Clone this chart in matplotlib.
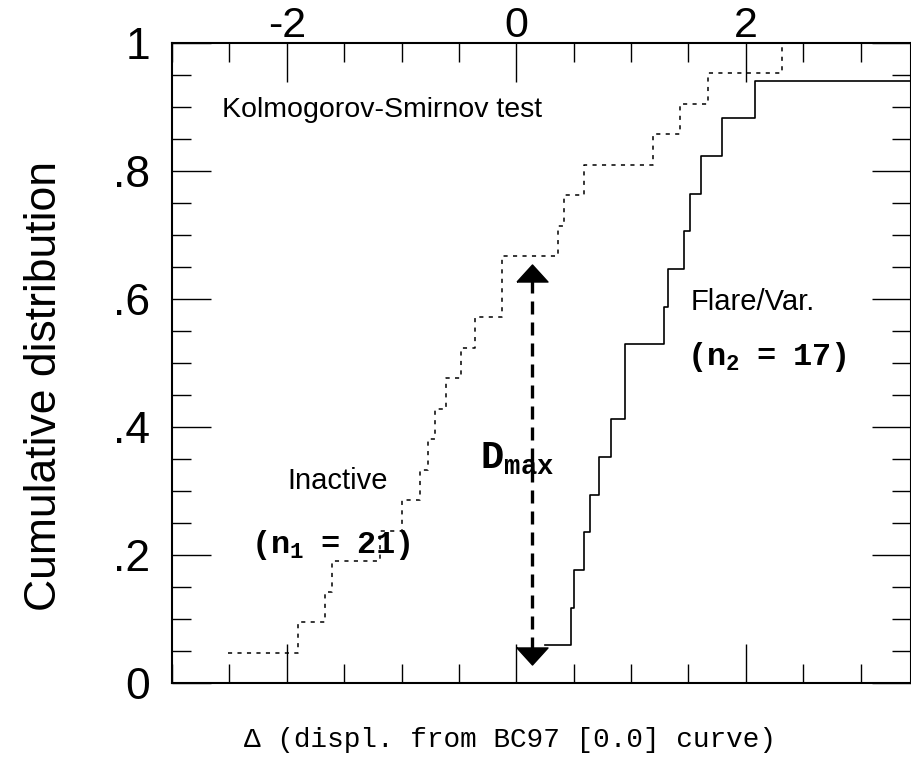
import numpy as np
import matplotlib
matplotlib.use("Agg")
import matplotlib.pyplot as plt
from matplotlib.ticker import MultipleLocator, FuncFormatter

plt.rcParams["font.family"] = ["Liberation Sans", "DejaVu Sans"]
plt.rcParams["axes.unicode_minus"] = False
plt.rcParams["mathtext.fontset"] = "custom"
plt.rcParams["mathtext.rm"] = "Liberation Mono:bold"
plt.rcParams["mathtext.bf"] = "Liberation Mono:bold"

# sorted displacements
inactive = [-2.51, -1.90, -1.67, -1.61, -1.19, -1.00, -0.84, -0.77, -0.71,
            -0.61, -0.48, -0.36, -0.12, -0.12, 0.36, 0.42, 0.59, 1.19,
            1.43, 1.67, 2.32]
flare = [0.25, 0.48, 0.50, 0.59, 0.64, 0.72, 0.83, 0.95, 0.95, 1.29,
         1.32, 1.46, 1.51, 1.61, 1.79, 2.08, 3.60]  # last one is off the plot

xmin, xmax = -3.0, 3.44

# D_max marker
dmax_x = 0.138
dmax_lo = 0.0414
dmax_hi = 0.641

fig = plt.figure(figsize=(9.12, 7.62), dpi=100)
ax = fig.add_axes([0.1886, 0.1037, 0.8103, 0.8399])

n1 = len(inactive)
n2 = len(flare)
y1 = np.arange(1, n1 + 1) / n1
y2 = np.arange(1, n2 + 1) / n2

ax.step(inactive + [xmax], list(y1) + [1.0], where="post", color="k",
        lw=1.1, ls=(0, (2.7, 3.5)))
ax.step(flare, y2, where="post", color="k", lw=1.2)

# double arrow for D_max
ax.plot([dmax_x, dmax_x], [dmax_lo + 0.01, dmax_hi - 0.01], color="k",
        lw=2.4, ls=(0, (3.9, 2.4)))
up = [(-1, -0.55), (1, -0.55), (0, 0.55), (-1, -0.55)]
down = [(-1, 0.55), (1, 0.55), (0, -0.55), (-1, 0.55)]
ax.plot([dmax_x], [dmax_hi], marker=up, ms=22.3, color="k", ls="none")
ax.plot([dmax_x], [dmax_lo], marker=down, ms=22.3, color="k", ls="none")

ax.set_xlim(xmin, xmax)
ax.set_ylim(0, 1)

ax.xaxis.set_major_locator(MultipleLocator(2))
ax.xaxis.set_minor_locator(MultipleLocator(0.5))
ax.yaxis.set_major_locator(MultipleLocator(0.2))
ax.yaxis.set_minor_locator(MultipleLocator(0.05))


def yfmt(v, pos):
    if abs(v) < 1e-9:
        return "0"
    if abs(v - 1) < 1e-9:
        return "1"
    return ("%.1f" % v).lstrip("0")


ax.yaxis.set_major_formatter(FuncFormatter(yfmt))
ax.xaxis.set_major_formatter(FuncFormatter(lambda v, p: "%d" % round(v)))

ax.tick_params(which="both", direction="in", top=True, right=True,
               labeltop=True, labelbottom=False, width=1.0, color="k")
ax.tick_params(which="major", length=28)
ax.tick_params(which="minor", length=14)
ax.tick_params(axis="y", labelsize=32, pad=16)
ax.tick_params(axis="x", labelsize=31, pad=-2.5)
for s in ax.spines.values():
    s.set_linewidth(1.5)

ax.set_ylabel("Cumulative distribution", fontsize=32, va="center")
ax.yaxis.set_label_coords(-0.172, 0.464)
ax.set_xlabel("\u0394 (displ. from BC97 [0.0] curve)", fontsize=20,
              family=["Liberation Mono", "DejaVu Sans Mono"], va="center")
ax.xaxis.set_label_coords(0.457, -0.089)

ax.text(-2.564, 0.8945, "Kolmogorov-Smirnov test", fontsize=20.5,
        ha="left", va="center")
ax.text(-1.557, 0.316, "Inactive", fontsize=21, ha="center", va="center")
ax.text(2.064, 0.595, "Flare/Var.", fontsize=21, ha="center", va="center")
ax.text(-1.618, 0.216, r"$\mathbf{(n_1\ =\ 21)}$", fontsize=23,
        ha="center", va="center")
ax.text(2.181, 0.509, r"$\mathbf{(n_2\ =\ 17)}$", fontsize=23,
        ha="center", va="center")
ax.text(0.007, 0.35, r"$\mathbf{D_{max}}$", fontsize=28,
        ha="center", va="center")

fig.savefig("out.png", dpi=100)
